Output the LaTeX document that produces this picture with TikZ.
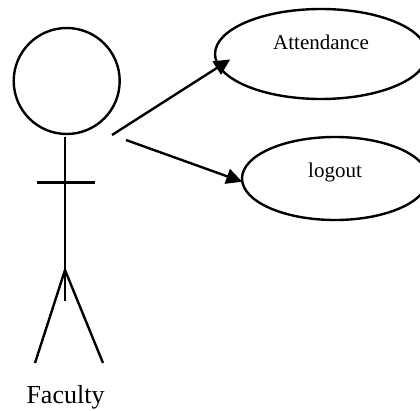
\documentclass[tikz,border=0pt]{standalone}
\usepackage{fontspec}
\setmainfont{Liberation Serif}
\usetikzlibrary{arrows.meta,shapes.geometric}
\tikzset{
  usecase/.style={draw, ellipse, inner sep=0pt, outer sep=0pt},
  stick/.style={line width=1.8pt},
  assoc/.style={line width=1.8pt, -{Triangle[length=12pt,width=11.5pt]}},
  smalltext/.style={anchor=base, inner sep=0pt, font=\fontsize{15.75}{18}\selectfont},
  bigtext/.style={anchor=base, inner sep=0pt, font=\fontsize{19.5}{22}\selectfont}
}
\begin{document}
\begin{tikzpicture}[x=0.75pt, y=-0.75pt, line width=1.8pt]
        \useasboundingbox (0,0) rectangle (420,410);
        \clip (0,0) rectangle (420,410);
        \node[draw, circle, minimum size=79.5pt, inner sep=0pt, outer sep=0pt] (head) at (66.7,81) {};
        \node[usecase, minimum width=159pt, minimum height=67.5pt] (attendance) at (321,54) {};
        \node[usecase, minimum width=139.5pt, minimum height=62.25pt] (logoutcase) at (335,178.5) {};
        \node[smalltext] (attendancetext) at (321,50) {Attendance};
        \node[smalltext] (logouttext) at (335,177.7) {logout};
        \node[bigtext] (faculty) at (65.5,403) {Faculty};

        \coordinate (neck) at (65,137); \coordinate (tail) at (65,301);
        \coordinate (arml) at (37,182.5); \coordinate (armr) at (95,182.5);
        \coordinate (hip) at (65,270);
        \coordinate (footl) at (35,363); \coordinate (footr) at (103,363);
        \coordinate (froma) at (112,135); \coordinate (fromb) at (126,140);

        \draw[stick] (neck)--(tail);
        \draw[stick] (arml)--(armr);
        \foreach \p in {footl,footr} \draw[stick] (hip)--(\p);

        \draw[assoc, shorten >=-9.8pt] (froma)--(attendance.187);
        \draw[assoc] (fromb)--(logoutcase.182);
    \end{tikzpicture}
\end{document}
